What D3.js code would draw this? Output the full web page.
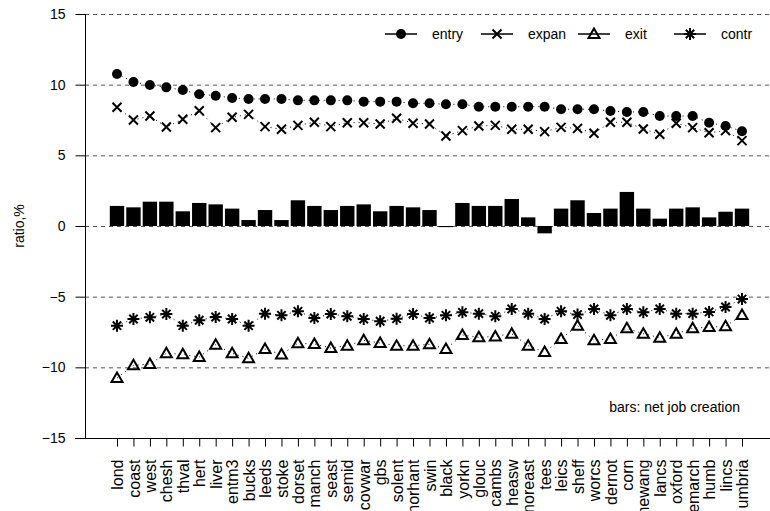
<!DOCTYPE html>
<html lang="en">
<head>
  <meta charset="UTF-8">
  <title>Job flows by region</title>
  <script src="https://d3js.org/d3.v7.min.js"></script>
  <style>
    body { margin: 0; background: #fff; }
    svg { font-family: "Liberation Sans", Arial, sans-serif; display: block; }
    .grid line { stroke: #555; stroke-dasharray: 4,4; }
    .axis path, .axis line { stroke: #000; fill: none; }
  </style>
</head>
<body>
  <svg width="770" height="511"></svg>

  <script>
    const regions = ["lond","coast","west","chesh","thval","hert","liver","entm3","bucks","leeds",
      "stoke","dorset","manch","seast","semid","covwar","gbs","solent","norhant","swin",
      "black","yorkn","glouc","cambs","heasw","noreast","tees","leics","sheff","worcs",
      "dernot","corn","newang","lancs","oxford","emarch","humb","lincs","umbria"];

    const entry = [10.76,10.19,9.98,9.81,9.62,9.32,9.22,9.06,8.99,8.99,
      8.99,8.89,8.89,8.89,8.89,8.80,8.80,8.80,8.68,8.68,
      8.61,8.61,8.44,8.44,8.44,8.44,8.44,8.26,8.26,8.26,
      8.14,8.07,8.07,7.78,7.78,7.78,7.31,7.08,6.70];

    const expan = [8.40,7.50,7.78,7.01,7.55,8.16,6.96,7.69,7.90,7.03,
      6.84,7.12,7.34,7.03,7.31,7.31,7.22,7.62,7.27,7.22,
      6.37,6.75,7.08,7.12,6.84,6.84,6.68,6.98,6.91,6.56,
      7.34,7.34,6.86,6.49,7.27,6.96,6.60,6.75,6.04];

    const exit = [-10.76,-9.86,-9.76,-9.01,-9.08,-9.27,-8.40,-9.01,-9.36,-8.70,
      -9.10,-8.30,-8.35,-8.63,-8.47,-8.09,-8.28,-8.47,-8.47,-8.37,
      -8.70,-7.71,-7.88,-7.81,-7.62,-8.47,-8.92,-8.00,-7.05,-8.09,
      -8.00,-7.24,-7.62,-7.90,-7.62,-7.24,-7.15,-7.10,-6.30];

    const contr = [-7.05,-6.58,-6.46,-6.23,-7.05,-6.67,-6.44,-6.58,-7.05,-6.20,
      -6.32,-6.04,-6.51,-6.23,-6.39,-6.58,-6.74,-6.56,-6.23,-6.51,
      -6.32,-6.11,-6.20,-6.39,-5.87,-6.20,-6.58,-6.04,-6.27,-5.87,
      -6.32,-5.87,-6.11,-5.87,-6.20,-6.20,-6.08,-5.73,-5.17];

    const netJob = [1.42,1.32,1.72,1.72,1.04,1.63,1.53,1.23,0.42,1.13,
      0.42,1.82,1.42,1.13,1.42,1.53,1.04,1.42,1.32,1.13,
      -0.08,1.63,1.42,1.42,1.91,0.61,-0.52,1.23,1.82,0.92,
      1.23,2.41,1.23,0.52,1.23,1.32,0.61,1.01,1.23];

    const yTicks = [-15,-10,-5,0,5,10,15];
    const seriesNames = ["entry","expan","exit","contr"];

    const svg = d3.select("svg");
    const plotLeft = 85, plotRight = 770, plotTop = 14, plotBottom = 438;

    const x = d3.scalePoint().domain(regions).range([117, 742]);
    const y = d3.scaleLinear().domain([-15, 15]).range([plotBottom, plotTop]);
    const barW = x.step() * 0.875;

    // gridlines (top one a little darker)
    svg.append("g").attr("class", "grid")
      .selectAll("line").data(yTicks.filter(t => t !== -15)).join("line")
        .attr("x1", plotLeft).attr("x2", plotRight)
        .attr("y1", d => y(d) + 0.5).attr("y2", d => y(d) + 0.5)
        .attr("stroke", d => d === 15 ? "#222" : null);

    // bars
    svg.append("g").selectAll("rect")
      .data(regions.map((r, i) => ({r, v: netJob[i]})))
      .join("rect")
        .attr("x", d => x(d.r) - barW / 2)
        .attr("width", barW)
        .attr("y", d => y(Math.max(0, d.v)))
        .attr("height", d => Math.max(1, Math.abs(y(d.v) - y(0))))
        .attr("fill", "#000");

    // axes
    const yAxis = svg.append("g").attr("class", "axis")
      .attr("transform", `translate(${plotLeft + 0.5},0)`)
      .call(d3.axisLeft(y).tickValues(yTicks).tickSize(10).tickPadding(10));
    yAxis.select(".domain").attr("d", `M0,${plotTop}V${plotBottom}`);
    yAxis.selectAll("text").attr("font-size", 14).attr("fill", "#000");

    const xAxis = svg.append("g").attr("class", "axis")
      .attr("transform", `translate(0,${plotBottom + 0.5})`)
      .call(d3.axisBottom(x).tickSize(8).tickPadding(14));
    xAxis.select(".domain").attr("d", `M${plotLeft - 10},0H${plotRight}`);
    xAxis.selectAll("text")
      .attr("font-size", 16).attr("fill", "#000")
      .attr("text-anchor", "end")
      .attr("dy", "0.35em")
      .attr("transform", "rotate(-90)")
      .attr("x", -21).attr("y", 0);

    // marker drawing
    function marker(g, type) {
      if (type === "entry") {
        g.append("circle").attr("r", 5).attr("fill", "#000");
      } else if (type === "expan") {
        g.append("path").attr("d", "M-4.5,-4.5L4.5,4.5M-4.5,4.5L4.5,-4.5")
          .attr("stroke", "#000").attr("stroke-width", 2);
      } else if (type === "exit") {
        g.append("path").attr("d", "M0,-5.5L5.5,4L-5.5,4Z")
          .attr("fill", "none").attr("stroke", "#000").attr("stroke-width", 2);
      } else {
        g.append("path").attr("d", "M0,-6V6M-6,0H6M-4.2,-4.2L4.2,4.2M-4.2,4.2L4.2,-4.2")
          .attr("stroke", "#000").attr("stroke-width", 2);
      }
    }

    const seriesData = {entry, expan, exit, contr};
    const line = d3.line().x(d => x(d.r)).y(d => y(d.v));

    seriesNames.forEach(name => {
      const pts = regions.map((r, i) => ({r, v: seriesData[name][i]}));
      svg.append("path")
        .attr("d", line(pts))
        .attr("fill", "none").attr("stroke", "#000")
        .attr("stroke-width", 1).attr("stroke-dasharray", "1,4");
      svg.append("g").selectAll("g").data(pts).join("g")
        .attr("transform", d => `translate(${x(d.r)},${y(d.v)})`)
        .each(function() { marker(d3.select(this), name); });
    });

    // legend
    const legendX = [385, 481, 578, 674];
    const legendY = 34;
    seriesNames.forEach((name, i) => {
      const lg = svg.append("g").attr("transform", `translate(${legendX[i]},${legendY})`);
      lg.append("line").attr("x1", 0).attr("x2", 32).attr("stroke", "#000").attr("stroke-width", 1.5);
      marker(lg.append("g").attr("transform", "translate(16,0)"), name);
      lg.append("text").attr("x", 47).attr("dy", "0.35em")
        .attr("font-size", 14).text(name);
    });

    svg.append("text")
      .attr("x", 740).attr("y", 412)
      .attr("text-anchor", "end").attr("font-size", 14)
      .text("bars: net job creation");

    svg.append("text")
      .attr("transform", "translate(24,226) rotate(-90)")
      .attr("text-anchor", "middle").attr("font-size", 14)
      .text("ratio,%");
  </script>
</body>
</html>
